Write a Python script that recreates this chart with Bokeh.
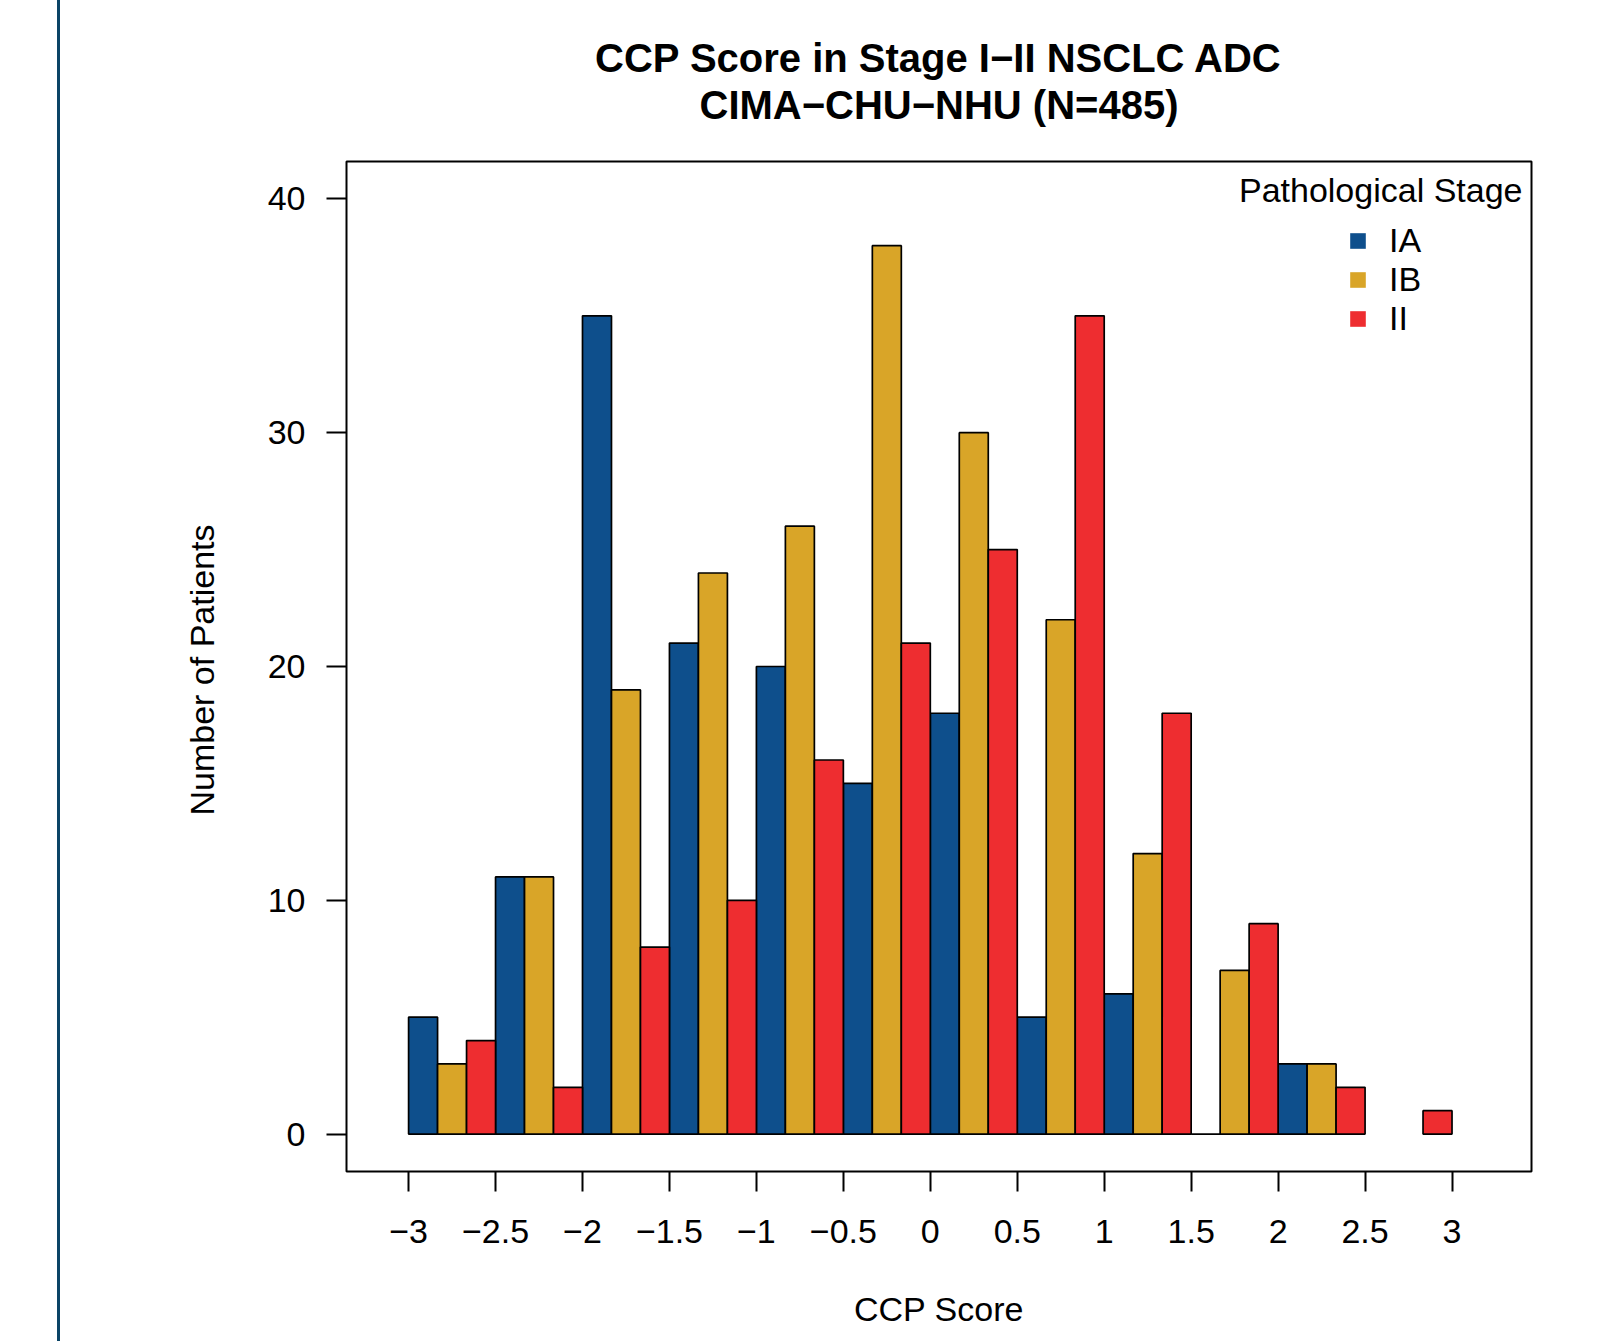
import math
from bokeh.plotting import figure
from bokeh.models import (Range1d, FixedTicker, Label, Legend, LegendItem,
                          ColumnDataSource, BoxAnnotation, Title)
from bokeh.embed import file_html
from bokeh.resources import INLINE

# ---------------- data ----------------
bin_edges = [-3.0, -2.5, -2.0, -1.5, -1.0, -0.5, 0.0, 0.5, 1.0, 1.5, 2.0, 2.5, 3.0]
stages = ["IA", "IB", "II"]
counts_IA = [5, 11, 35, 21, 20, 15, 18, 5, 6, 0, 3, None]
counts_IB = [3, 11, 19, 24, 26, 38, 30, 22, 12, 7, 3, None]
counts_II = [4, 2, 8, 10, 16, 21, 25, 35, 18, 9, 2, 1]
stage_colors = ["#0E4F8C", "#D9A528", "#EE2D30"]
x_ticks = [-3, -2.5, -2, -1.5, -1, -0.5, 0, 0.5, 1, 1.5, 2, 2.5, 3]
x_tick_labels = ["\u22123", "\u22122.5", "\u22122", "\u22121.5", "\u22121", "\u22120.5",
                 "0", "0.5", "1", "1.5", "2", "2.5", "3"]
y_ticks = [0, 10, 20, 30, 40]
title_lines = ["CCP Score in Stage I\u2212II NSCLC ADC", "CIMA\u2212CHU\u2212NHU (N=485)"]
legend_title = "Pathological Stage"
x_label = "CCP Score"
y_label = "Number of Patients"

FONT = "Liberation Sans"
TXT = "34px"

# ---------------- geometry ----------------
W, H = 1610, 1341
# plot box (R-style plotting region) in page pixels and data limits
BOX_L, BOX_R, BOX_T, BOX_B = 346, 1531, 161, 1171
box_x0, box_x1 = -3.357, 3.457
box_y0, box_y1 = -1.6, 41.6
sx = (BOX_R - BOX_L) / (box_x1 - box_x0)
sy = (BOX_B - BOX_T) / (box_y1 - box_y0)
# Bokeh frame: 2px outside the box left/right/bottom, up to the top of the canvas
FR_L, FR_R, FR_T, FR_B = BOX_L - 2, BOX_R + 2, 0, BOX_B + 2
x_start = box_x0 - (BOX_L - FR_L) / sx
x_end = box_x1 + (FR_R - BOX_R) / sx
y_start = box_y0 - (FR_B - BOX_B) / sy
y_end = box_y1 + (BOX_T - FR_T) / sy


def page_to_data(px, py):
    return box_x0 + (px - BOX_L) / sx, box_y0 + (BOX_B - py) / sy


p = figure(width=W, height=H, output_backend="svg", toolbar_location=None,
           x_range=Range1d(x_start, x_end), y_range=Range1d(y_start, y_end),
           min_border_left=FR_L, min_border_right=W - FR_R, min_border_top=FR_T,
           min_border_bottom=H - FR_B, title=None)

p.background_fill_color = "white"
p.border_fill_color = "white"
p.border_fill_alpha = 0
p.outline_line_color = None
p.grid.visible = False
# thin dark-blue page rule on the left (page decoration)
p.styles = {"background-image":
            "linear-gradient(90deg, rgba(0,0,0,0) 57px, #0B4466 57px, "
            "#0B4466 60px, rgba(0,0,0,0) 60px)"}

# plotting-region box
p.add_layout(BoxAnnotation(left=box_x0, right=box_x1, bottom=box_y0, top=box_y1,
                           fill_alpha=0, line_color="black", line_alpha=1,
                           line_width=2, level="underlay"))

# ---------------- bars ----------------
bin_w = bin_edges[1] - bin_edges[0]
bar_w = bin_w / len(stages)
all_counts = [counts_IA, counts_IB, counts_II]
legend_items = []
for k, (name, counts, col) in enumerate(zip(stages, all_counts, stage_colors)):
    xs, tops = [], []
    for i, c in enumerate(counts):
        if c is None:
            continue
        xs.append(bin_edges[i] + (k + 0.5) * bar_w)
        tops.append(c)
    src = ColumnDataSource(dict(x=xs, top=tops))
    p.vbar(x="x", top="top", bottom=0, width=bar_w, source=src,
           fill_color=col, line_color="black", line_width=1.7)
    lr = p.scatter(x=[math.nan], y=[math.nan], marker="square",
                   fill_color=col, line_color=None)
    legend_items.append(LegendItem(label=name, renderers=[lr]))

# ---------------- axes ----------------
for ax in (p.xaxis[0], p.yaxis[0]):
    ax.axis_line_color = None
    ax.major_tick_line_width = 2
    ax.major_tick_out = 18
    ax.major_tick_in = 2
    ax.minor_tick_line_color = None
    ax.major_label_text_font = FONT
    ax.major_label_text_font_size = TXT
    ax.major_label_text_color = "black"
    ax.axis_label_text_font = FONT
    ax.axis_label_text_font_size = TXT
    ax.axis_label_text_font_style = "normal"
    ax.axis_label_text_color = "black"

p.xaxis.ticker = FixedTicker(ticks=x_ticks)
p.xaxis.major_label_overrides = {float(t): lab for t, lab in zip(x_ticks, x_tick_labels)}
p.xaxis.major_label_standoff = 28
p.xaxis.axis_label = x_label
p.xaxis.axis_label_standoff = 44

p.yaxis.ticker = FixedTicker(ticks=y_ticks)
p.yaxis.major_label_orientation = "horizontal"
p.yaxis.major_label_standoff = 21

# y-axis title: placed along the plot box rather than the (taller) frame;
# align="left" on the left side starts the text at the bottom, shifted up by offset
label_start_y = 815
p.add_layout(Title(text=y_label, align="left", offset=FR_B - label_start_y,
                   standoff=88, text_font=FONT, text_font_size=TXT,
                   text_font_style="normal", text_color="black"), "left")

# ---------------- legend ----------------
leg_left, leg_bottom = 1338, 338
legend = Legend(items=legend_items,
                location=(leg_left - FR_L, FR_B - leg_bottom),
                padding=0, margin=0, spacing=0,
                glyph_width=39, glyph_height=39, label_standoff=12,
                label_text_font=FONT, label_text_font_size=TXT,
                label_text_color="black",
                border_line_color=None, background_fill_alpha=0)
p.add_layout(legend, "center")

lx, ly = page_to_data(1522, 189)
p.add_layout(Label(x=lx, y=ly, text=legend_title, text_align="right",
                   text_baseline="alphabetic", text_font=FONT,
                   text_font_size=TXT, text_color="black"))

# ---------------- title (two centred lines) ----------------
tx = (box_x0 + box_x1) / 2
for py, txt in zip([57.5, 104], title_lines):
    _, ty = page_to_data(0, py)
    p.add_layout(Label(x=tx, y=ty, text=txt, text_align="center",
                       text_baseline="alphabetic", text_font=FONT,
                       text_font_size="40px", text_font_style="bold",
                       text_color="black"))

open("out.html", "w").write(file_html(p, INLINE))
